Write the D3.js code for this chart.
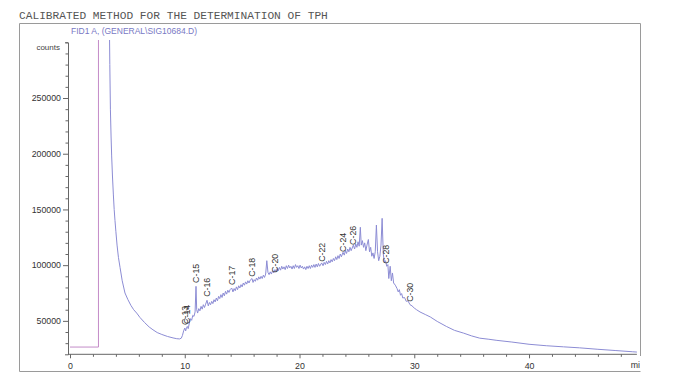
<!DOCTYPE html>
<html>
<head>
<meta charset="utf-8">
<script src="https://cdn.jsdelivr.net/npm/d3@7"></script>
<style>
  html, body { margin: 0; padding: 0; background: #fff; }
  svg { display: block; }
</style>
</head>
<body>
<svg id="chart" width="681" height="380"></svg>
<script>
// ---------------- data ----------------
const chartTitle = "CALIBRATED METHOD FOR THE DETERMINATION OF TPH";
const signalName = "FID1 A, (GENERAL\\SIG10684.D)";
const yUnit = "counts";
const xUnit = "mi";

const yMajorTicks = [50000, 100000, 150000, 200000, 250000];
const xMajorTicks = [0, 10, 20, 30, 40];

// initial baseline before the solvent front (min, counts)
const baseTime   = [0, 2.48, 2.48];
const baseCounts = [26500, 26500, 330000];

// main trace (min, counts)
const traceTime = [
  3.42, 3.47, 3.52, 3.58, 3.63, 3.70, 3.78, 3.85, 3.92, 4.00, 4.10, 4.22, 4.36, 4.55, 4.79, 5.05, 5.30, 5.55, 5.81, 6.10,
  6.50, 6.90, 7.23, 7.60, 8.00, 8.50, 8.98, 9.30, 9.55, 9.70, 9.80, 9.90, 10.00, 10.08, 10.15, 10.22, 10.30, 10.40, 10.50, 10.60,
  10.70, 10.80, 10.90, 10.98, 11.04, 11.12, 11.22, 11.32, 11.42, 11.52, 11.62, 11.72, 11.82, 11.94, 12.05, 12.15, 12.25, 12.35, 12.45, 12.55,
  12.65, 12.75, 12.85, 12.95, 13.05, 13.15, 13.25, 13.35, 13.45, 13.55, 13.65, 13.75, 13.85, 13.95, 14.09, 14.20, 14.30, 14.40, 14.50, 14.60,
  14.70, 14.80, 14.90, 15.00, 15.10, 15.20, 15.30, 15.40, 15.50, 15.60, 15.70, 15.86, 15.95, 16.05, 16.15, 16.25, 16.35, 16.45, 16.55, 16.65,
  16.75, 16.85, 16.95, 17.05, 17.15, 17.25, 17.35, 17.45, 17.55, 17.65, 17.75, 17.86, 17.95, 18.05, 18.15, 18.25, 18.35, 18.45, 18.55, 18.65,
  18.75, 18.85, 18.95, 19.05, 19.15, 19.25, 19.35, 19.45, 19.55, 19.65, 19.75, 19.85, 19.95, 20.05, 20.15, 20.25, 20.35, 20.45, 20.55, 20.65,
  20.75, 20.85, 20.95, 21.05, 21.15, 21.25, 21.35, 21.45, 21.55, 21.65, 21.75, 21.93, 22.05, 22.15, 22.25, 22.35, 22.45, 22.55, 22.65, 22.75,
  22.85, 22.95, 23.05, 23.15, 23.25, 23.35, 23.45, 23.55, 23.65, 23.79, 23.90, 24.00, 24.10, 24.20, 24.30, 24.40, 24.50, 24.69, 24.80, 24.90,
  25.00, 25.10, 25.20, 25.30, 25.38, 25.48, 25.58, 25.68, 25.78, 25.88, 26.00, 26.10, 26.20, 26.30, 26.40, 26.50, 26.60, 26.70, 26.80, 26.90,
  27.00, 27.10, 27.20, 27.30, 27.40, 27.50, 27.60, 27.70, 27.78, 27.90, 28.00, 28.10, 28.20, 28.35, 28.50, 28.60, 28.70, 28.80, 28.90, 29.00,
  29.15, 29.30, 29.45, 29.63, 29.80, 30.00, 30.20, 30.50, 31.00, 31.40, 32.00, 32.80, 33.50, 34.30, 35.00, 35.70, 36.50, 37.20, 38.50, 40.00,
  41.50, 43.00, 44.40, 46.00, 47.50, 49.00, 49.40
];
const traceCounts = [
  330000, 280000, 240000, 215000, 198000, 180000, 163000, 150000, 140000, 130000, 118000, 107000, 98000, 86000, 75000, 69000, 64000, 60000, 57000, 53000,
  48500, 44500, 42000, 39500, 37800, 36000, 34700, 34000, 33800, 34500, 37000, 41000, 43500, 41000, 44000, 45000, 43000, 48000, 52000, 50500,
  55000, 54000, 58000, 81000, 60000, 57000, 61000, 59000, 63000, 60500, 64500, 62000, 65000, 68500, 63500, 66500, 64500, 67500, 65500, 69000,
  67000, 70500, 68000, 72000, 70000, 73500, 71000, 75000, 72500, 76500, 74000, 77500, 75500, 78000, 79500, 76000, 79000, 77000, 80500, 78000,
  81500, 79500, 82500, 80500, 84000, 82000, 85000, 83000, 86000, 84000, 86500, 88000, 84500, 87000, 85500, 88500, 86500, 89500, 87500, 90000,
  88000, 91000, 89000, 92000, 104000, 93500, 91500, 94000, 92000, 95000, 93000, 96000, 94000, 97000, 95000, 98000, 95500, 99000, 96500, 98500,
  96000, 99500, 97000, 100000, 97500, 99000, 96500, 99500, 97000, 100500, 98000, 99500, 97000, 100000, 97500, 99000, 96500, 98500, 96000, 99000,
  97000, 99500, 97000, 100000, 98000, 100500, 98000, 101000, 98500, 101500, 99000, 102000, 99500, 102500, 100500, 103500, 101000, 104000, 102000, 105000,
  103000, 106000, 104000, 107500, 105000, 108500, 106000, 110000, 107500, 111500, 109000, 113000, 110500, 114500, 112000, 116000, 113000, 118000, 114500, 119000,
  116000, 121000, 117000, 134000, 118000, 122000, 116000, 120000, 113000, 118000, 123000, 112000, 116000, 108000, 111000, 106000, 112000, 136000, 112000, 104000,
  108000, 118000, 142000, 110000, 102000, 104000, 99000, 100500, 88000, 99000, 86000, 93000, 84000, 82000, 79000, 76000, 78000, 73000, 74500, 70500,
  71000, 67500, 68000, 64500, 63500, 61500, 60000, 58000, 55500, 53500, 49500, 45000, 41500, 39000, 36500, 34500, 33500, 32500, 31000, 29000,
  27700, 26700, 25800, 24500, 23400, 22300, 22000
];

// peak annotations
const peakNames   = ["C-13", "C-14", "C-15", "C-16", "C-17", "C-18", "C-20", "C-22", "C-24", "C-26", "C-28", "C-30"];
const peakTimes   = [10.02, 10.22, 10.98, 11.94, 14.09, 15.86, 17.86, 21.93, 23.79, 24.69, 27.54, 29.63];
const peakHeights = [43700, 44600, 81400, 68900, 79600, 86800, 90400, 100300, 109200, 115500, 98500, 64400];

// ---------------- drawing ----------------
const svg = d3.select("#chart");

const x = d3.scaleLinear().domain([0, 49.4]).range([70, 636.9]);
const y = d3.scaleLinear().domain([20000, 300000]).range([354.3, 42.3]);
const axisX = 68;

// frame
svg.append("path")
  .attr("d", "M640.5,356 L640.5,23.5 L19.5,23.5 L19.5,371.5 L640.5,371.5")
  .attr("fill", "none").attr("stroke", "#9a9a9a").attr("stroke-width", 1);

// title
svg.append("text")
  .attr("x", 19).attr("y", 19)
  .attr("font-family", "'Liberation Mono', 'DejaVu Sans Mono', monospace")
  .attr("font-size", 11.2)
  .attr("fill", "#555")
  .text(chartTitle);

// signal name
svg.append("text")
  .attr("x", 71).attr("y", 33.5)
  .attr("font-family", "'Liberation Sans', Arial, sans-serif")
  .attr("font-size", 8.6)
  .attr("fill", "#7878c4")
  .attr("textLength", 126)
  .attr("lengthAdjust", "spacingAndGlyphs")
  .text(signalName);

// y unit
svg.append("text")
  .attr("x", 60).attr("y", 49.5)
  .attr("text-anchor", "end")
  .attr("font-family", "'Liberation Sans', Arial, sans-serif")
  .attr("font-size", 8)
  .attr("fill", "#444")
  .text(yUnit);

// y axis
const yMinor = d3.range(30000, 300001, 10000).filter(v => !yMajorTicks.includes(v));
const yAxisG = svg.append("g").attr("transform", `translate(${axisX},0)`);
yAxisG.call(d3.axisLeft(y).tickValues(yMinor).tickSize(2.5).tickSizeOuter(0).tickFormat(""));
yAxisG.call(g => g.select(".domain").remove());
const yAxisMajor = svg.append("g").attr("transform", `translate(${axisX},0)`)
  .call(d3.axisLeft(y).tickValues(yMajorTicks).tickSize(5).tickSizeOuter(3).tickPadding(2).tickFormat(d3.format("d")));
yAxisMajor.selectAll("text")
  .attr("font-family", "'Liberation Sans', Arial, sans-serif")
  .attr("font-size", 8.8)
  .attr("fill", "#333");
yAxisMajor.select(".domain").attr("stroke", "#666");

// x axis
const xMinor = d3.range(2, 49, 2).filter(v => !xMajorTicks.includes(v));
const xAxisY = y(20000);
svg.append("line")
  .attr("x1", axisX).attr("x2", x(49.4))
  .attr("y1", xAxisY).attr("y2", xAxisY)
  .attr("stroke", "#666");
const xMinorG = svg.append("g").attr("transform", `translate(0,${xAxisY})`)
  .call(d3.axisBottom(x).tickValues(xMinor).tickSize(2.5).tickFormat(""));
xMinorG.select(".domain").remove();
const xMajorG = svg.append("g").attr("transform", `translate(0,${xAxisY})`)
  .call(d3.axisBottom(x).tickValues(xMajorTicks).tickSize(4).tickPadding(4).tickFormat(d3.format("d")));
xMajorG.select(".domain").remove();
xMajorG.selectAll("text")
  .attr("font-family", "'Liberation Sans', Arial, sans-serif")
  .attr("font-size", 8.8)
  .attr("fill", "#333");
svg.selectAll(".tick line").attr("stroke", "#666");

svg.append("text")
  .attr("x", 640).attr("y", xAxisY + 14)
  .attr("text-anchor", "end")
  .attr("font-family", "'Liberation Sans', Arial, sans-serif")
  .attr("font-size", 8.8)
  .attr("fill", "#333")
  .text(xUnit);

// clip
svg.append("clipPath").attr("id", "plotClip")
  .append("rect").attr("x", axisX).attr("y", 40).attr("width", 575).attr("height", xAxisY - 40);

const line = d3.line().x(d => x(d[0])).y(d => y(d[1]));
const plot = svg.append("g").attr("clip-path", "url(#plotClip)");

plot.append("path")
  .datum(baseTime.map((t, i) => [t, baseCounts[i]]))
  .attr("d", line)
  .attr("fill", "none")
  .attr("stroke", "#c48cc8")
  .attr("stroke-width", 1);

plot.append("path")
  .datum(traceTime.map((t, i) => [t, traceCounts[i]]))
  .attr("d", line)
  .attr("fill", "none")
  .attr("stroke", "#8c8cd4")
  .attr("stroke-width", 1);

// peak labels
svg.append("g").selectAll("text")
  .data(peakNames)
  .join("text")
  .attr("transform", (d, i) => `translate(${x(peakTimes[i]) + 3},${y(peakHeights[i]) - 3}) rotate(-90)`)
  .attr("font-family", "'Liberation Sans', Arial, sans-serif")
  .attr("font-size", 8.8)
  .attr("fill", "#333")
  .text(d => d);
</script>
</body>
</html>
